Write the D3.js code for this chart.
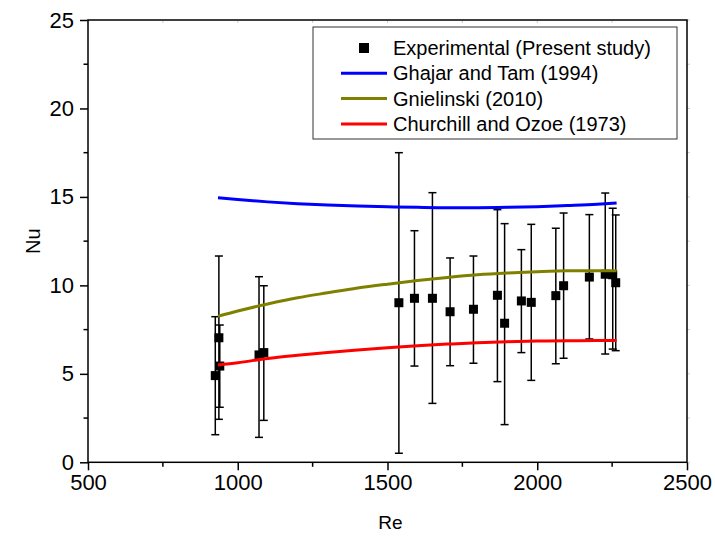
<!DOCTYPE html>
<html><head><meta charset="utf-8">
<script src="https://cdn.jsdelivr.net/npm/d3@7"></script>
<style>body{margin:0;background:#fff}svg{display:block}text{font-family:"Liberation Sans",Arial,sans-serif;fill:#000}</style>
</head><body><svg id="c" width="715" height="538"></svg>
<script>
const reExp  = [925, 937, 940, 1071, 1087, 1538, 1590, 1650, 1709, 1787, 1867, 1891, 1947, 1980, 2062, 2088, 2174, 2227, 2252, 2262];
const nuExp  = [4.90, 7.04, 5.44, 6.07, 6.20, 9.02, 9.27, 9.27, 8.51, 8.65, 9.44, 7.86, 9.12, 9.04, 9.42, 9.98, 10.47, 10.63, 10.60, 10.15];
const nuLow  = [1.56, 2.43, 3.11, 1.41, 2.37, 0.51, 5.44, 3.33, 5.46, 5.60, 4.56, 2.13, 6.20, 4.63, 5.57, 5.88, 6.97, 6.12, 6.40, 6.31];
const nuHigh = [8.23, 11.66, 7.76, 10.49, 9.98, 17.50, 13.09, 15.24, 11.55, 11.66, 14.28, 13.49, 12.02, 13.45, 13.23, 14.09, 14.00, 15.22, 14.36, 13.98];

const reCurve    = [934, 1000, 1100, 1200, 1300, 1400, 1500, 1600, 1700, 1800, 1900, 2000, 2100, 2200, 2265];
const ghajarTam  = [14.95, 14.85, 14.72, 14.62, 14.54, 14.48, 14.44, 14.41, 14.39, 14.39, 14.41, 14.45, 14.51, 14.58, 14.65];
const gnielinski = [8.25, 8.55, 8.95, 9.30, 9.58, 9.85, 10.07, 10.27, 10.45, 10.60, 10.70, 10.77, 10.82, 10.83, 10.82];
const churchill  = [5.50, 5.63, 5.87, 6.05, 6.21, 6.35, 6.48, 6.59, 6.68, 6.76, 6.82, 6.85, 6.87, 6.88, 6.88];

const seriesNames  = ["Experimental (Present study)", "Ghajar and Tam (1994)", "Gnielinski (2010)", "Churchill and Ozoe (1973)"];
const seriesColors = ["#000000", "#0000ff", "#808000", "#ff0000"];
const xTicks = [500, 1000, 1500, 2000, 2500];
const yTicks = [0, 5, 10, 15, 20, 25];
const xLabel = "Re", yLabel = "Nu";

const svg = d3.select("#c");
const L = 88, R = 687, T = 20, B = 462.3;
const x = d3.scaleLinear().domain([500, 2500]).range([L, R]);
const y = d3.scaleLinear().domain([0, 25]).range([B, T]);

// error bars
const eb = svg.append("g").attr("stroke", "#000").attr("stroke-width", 1.5).attr("fill", "none");
reExp.forEach((r, i) => {
  const cx = x(r);
  eb.append("line").attr("x1", cx).attr("x2", cx).attr("y1", y(nuLow[i])).attr("y2", y(nuHigh[i]));
  eb.append("line").attr("x1", cx - 4).attr("x2", cx + 4).attr("y1", y(nuLow[i])).attr("y2", y(nuLow[i]));
  eb.append("line").attr("x1", cx - 4).attr("x2", cx + 4).attr("y1", y(nuHigh[i])).attr("y2", y(nuHigh[i]));
});
// squares
svg.append("g").selectAll("rect").data(reExp).join("rect")
  .attr("x", (d) => x(d) - 4.5).attr("y", (d, i) => y(nuExp[i]) - 4.5)
  .attr("width", 9).attr("height", 9).attr("fill", "#000");

// curves
const line = d3.line().x(d => x(d[0])).y(d => y(d[1])).curve(d3.curveMonotoneX);
[ghajarTam, gnielinski, churchill].forEach((vals, k) => {
  svg.append("path").datum(reCurve.map((r, i) => [r, vals[i]]))
    .attr("d", line).attr("fill", "none").attr("stroke", seriesColors[k + 1]).attr("stroke-width", 3);
});

// axes
const ax = svg.append("g");
const xAxis = d3.axisBottom(x).tickValues(xTicks).tickSize(8).tickPadding(4).tickFormat(d3.format("d"));
const gx = ax.append("g").attr("transform", `translate(0,${B})`).call(xAxis);
const yAxis = d3.axisLeft(y).tickValues(yTicks).tickSize(8).tickPadding(6);
const gy = ax.append("g").attr("transform", `translate(${L},0)`).call(yAxis);
[gx, gy].forEach(g => {
  g.select(".domain").remove();
  g.selectAll(".tick line").attr("stroke", "#000").attr("stroke-width", 1.5);
  g.selectAll(".tick text").attr("font-size", 22).style("font-family", '"Liberation Sans",Arial,sans-serif');
});
// minor ticks
[750, 1250, 1750, 2250].forEach(v => {
  ax.append("line").attr("x1", x(v)).attr("x2", x(v)).attr("y1", B).attr("y2", B + 4.5).attr("stroke", "#000").attr("stroke-width", 1.5);
});
[2.5, 7.5, 12.5, 17.5, 22.5].forEach(v => {
  ax.append("line").attr("x1", L - 4.5).attr("x2", L).attr("y1", y(v)).attr("y2", y(v)).attr("stroke", "#000").attr("stroke-width", 1.5);
});
// faint opposite ticks
d3.range(0, 25.1, 2.5).forEach(v => {
  ax.append("line").attr("x1", R).attr("x2", R + 3).attr("y1", y(v)).attr("y2", y(v)).attr("stroke", "#ccc").attr("stroke-width", 1);
});
d3.range(500, 2501, 250).forEach(v => {
  ax.append("line").attr("x1", x(v)).attr("x2", x(v)).attr("y1", T).attr("y2", T + 3).attr("stroke", "#ccc").attr("stroke-width", 1);
});
// frame
ax.append("rect").attr("x", L).attr("y", T).attr("width", R - L).attr("height", B - T)
  .attr("fill", "none").attr("stroke", "#000").attr("stroke-width", 1.5);

// axis labels
svg.append("text").attr("x", (L + R) / 2 + 3).attr("y", 529).attr("text-anchor", "middle").attr("font-size", 19).text(xLabel);
svg.append("text").attr("transform", `translate(40,${(T + B) / 2}) rotate(-90)`).attr("text-anchor", "middle").attr("font-size", 20).text(yLabel);

// legend
const lg = svg.append("g");
lg.append("rect").attr("x", 313).attr("y", 27).attr("width", 364).attr("height", 112)
  .attr("fill", "#fff").attr("stroke", "#333").attr("stroke-width", 1);
const rowY = [48, 73.3, 98.6, 124];
seriesNames.forEach((name, i) => {
  if (i === 0) {
    lg.append("rect").attr("x", 364 - 5).attr("y", rowY[i] - 5).attr("width", 10).attr("height", 10).attr("fill", "#000");
  } else {
    lg.append("line").attr("x1", 341).attr("x2", 387).attr("y1", rowY[i]).attr("y2", rowY[i])
      .attr("stroke", seriesColors[i]).attr("stroke-width", 3);
  }
  lg.append("text").attr("x", 393).attr("y", rowY[i]).attr("dy", "0.35em").attr("font-size", 20).text(name);
});
</script></body></html>
